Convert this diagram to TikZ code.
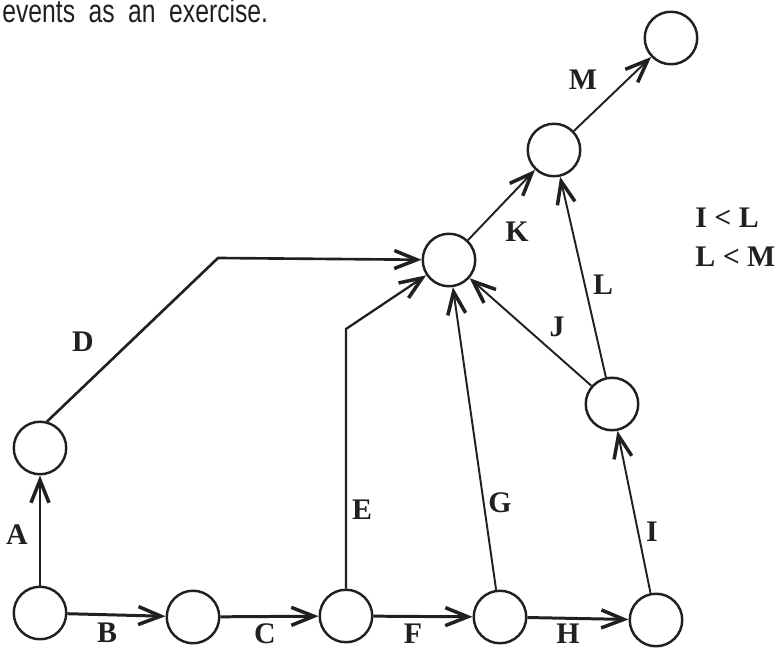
\documentclass[tikz,border=0pt]{standalone}
\usepackage{fontspec}
\setmainfont{Liberation Serif}
\newfontfamily\narrowsans[FakeStretch=0.76]{Liberation Sans}
\usetikzlibrary{arrows.meta}
\definecolor{ink}{HTML}{231F20}
\tikzset{
  event/.style={draw=ink, circle, line width=1.4pt, minimum size=1.05cm, inner sep=0pt},
  act/.style={-{Straight Barb[length=4.5mm, width=3.6mm, line width=2pt]}, line width=1.1pt, draw=ink},
  mainact/.style={act, line width=1.7pt},
  lbl/.style={font=\fontsize{17}{20}\selectfont\bfseries, text=ink, inner sep=0pt}
}

\begin{document}
\begin{tikzpicture}[x=0.2mm, y=-0.2mm]
  \useasboundingbox (0,0) rectangle (780,648);
  \node[anchor=base west, inner sep=0pt, text=ink, font=\narrowsans\fontsize{18.5}{20}\selectfont] (txt) at (2,23) {\spaceskip=0.27cm events as an exercise.};

  % events
  \node[event] (n1) at (40,613) {};
  \node[event] (n2) at (193,617) {};
  \node[event] (n3) at (346,616) {};
  \node[event] (n4) at (500,617) {};
  \node[event] (n5) at (656,620) {};
  \node[event] (n6) at (40,448) {};
  \node[event] (n7) at (612,404) {};
  \node[event] (n8) at (449,260) {};
  \node[event] (n9) at (554,150) {};
  \node[event] (n10) at (671,38) {};

  \coordinate (dbend) at (218,258);
  \coordinate (ebend) at (346,329);

  % activities
  \draw[mainact] (n1) -- (n6);
  \draw[mainact] (n1) -- (n2);
  \draw[mainact] (n2) -- (n3);
  \draw[mainact] (n3) -- (n4);
  \draw[mainact] (n4) -- (n5);
  \draw[act, line width=1.5pt] (n6.75) -- (dbend) -- (n8);
  \draw[act, line width=1.3pt] (n3) -- (ebend) -- (n8);
  \draw[act] (n4) -- (n8);
  \draw[act] (n5) -- (n7);
  \draw[act] (n7) -- (n8);
  \draw[act] (n7) -- (n9);
  \draw[act] (n8) -- (n9);
  \draw[act] (n9) -- (n10);

  % labels
  \node[lbl] (la) at (17,535) {A};
  \node[lbl] (lb) at (107,633) {B};
  \node[lbl] (lc) at (265,634) {C};
  \node[lbl] (ld) at (83,342) {D};
  \node[lbl] (le) at (362,510) {E};
  \node[lbl] (lf) at (413,634) {F};
  \node[lbl] (lg) at (500,503) {G};
  \node[lbl] (lh) at (568,634) {H};
  \node[lbl] (li) at (652,532) {I};
  \node[lbl] (lj) at (557,327) {J};
  \node[lbl] (lk) at (517,232) {K};
  \node[lbl] (ll) at (603,285) {L};
  \node[lbl] (lm) at (583,80) {M};

  \node[lbl, anchor=west] (rule1) at (695,218) {I < L};
  \node[lbl, anchor=west] (rule2) at (695,257) {L < M};
\end{tikzpicture}
\end{document}
